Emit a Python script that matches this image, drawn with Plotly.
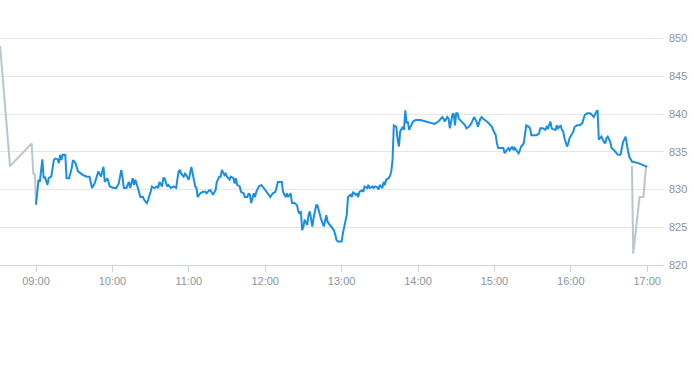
import pandas as pd
import plotly.graph_objects as go

DAY = "2024-01-02 "

pre_times = ["08:31:50", "08:39:36", "08:56:36", "08:57:54", "08:59:12", "09:00:00"]
pre_values = [849.0, 833.1, 836.1, 832.1, 832.0, 828.0]

post_times = ["16:48", "16:49", "16:54", "16:57", "16:59"]
post_values = [833.1, 821.5, 829.0, 829.0, 833.0]

main_times = [
    "09:00", "09:01", "09:02", "09:03", "09:05", "09:06", "09:07", "09:09", "09:10", "09:12",
    "09:14", "09:15", "09:17", "09:18", "09:19", "09:20", "09:21", "09:23", "09:24", "09:26",
    "09:28", "09:29", "09:31", "09:33", "09:37", "09:40", "09:42", "09:44", "09:46", "09:49",
    "09:51", "09:53", "09:54", "09:56", "09:58", "10:01", "10:03", "10:05", "10:07", "10:08",
    "10:09", "10:11", "10:13", "10:14", "10:16", "10:17", "10:18", "10:20", "10:22", "10:24",
    "10:25", "10:27", "10:28", "10:30", "10:31", "10:33", "10:35", "10:36", "10:37", "10:39",
    "10:40", "10:41", "10:43", "10:44", "10:46", "10:48", "10:50", "10:52", "10:53", "10:54",
    "10:56", "10:57", "10:58", "11:00", "11:02", "11:04", "11:05", "11:06", "11:07", "11:09",
    "11:11", "11:13", "11:14", "11:16", "11:17", "11:19", "11:21", "11:22", "11:24", "11:25",
    "11:26", "11:28", "11:29", "11:30", "11:32", "11:33", "11:35", "11:36", "11:37", "11:38",
    "11:40", "11:41", "11:43", "11:44", "11:46", "11:47", "11:48", "11:49", "11:51", "11:52",
    "11:53", "11:55", "11:57", "11:58", "12:00", "12:01", "12:02", "12:04", "12:06", "12:08",
    "12:10", "12:12", "12:13", "12:14", "12:16", "12:17", "12:18", "12:20", "12:21", "12:23",
    "12:25", "12:26", "12:27", "12:28", "12:29", "12:30", "12:31", "12:33", "12:34", "12:35",
    "12:37", "12:38", "12:40", "12:41", "12:43", "12:44", "12:46", "12:48", "12:49", "12:50",
    "12:52", "12:54", "12:55", "12:56", "12:57", "12:59", "13:00", "13:01", "13:04", "13:05",
    "13:07", "13:08", "13:09", "13:11", "13:12", "13:13", "13:14", "13:16", "13:17", "13:18",
    "13:20", "13:21", "13:22", "13:24", "13:25", "13:26", "13:28", "13:29", "13:30", "13:32",
    "13:33", "13:34", "13:35", "13:37", "13:38", "13:39", "13:40", "13:41", "13:43", "13:44",
    "13:45", "13:46", "13:47", "13:48", "13:49", "13:50", "13:51", "13:52", "13:53", "13:55",
    "13:56", "13:58", "14:01", "14:02", "14:04", "14:08", "14:13", "14:16", "14:19", "14:20",
    "14:21", "14:23", "14:24", "14:25", "14:27", "14:28", "14:29", "14:30", "14:31", "14:32",
    "14:34", "14:37", "14:38", "14:40", "14:42", "14:44", "14:46", "14:47", "14:49", "14:50",
    "14:51", "14:53", "14:54", "14:56", "14:58", "14:59", "15:01", "15:02", "15:03", "15:05",
    "15:07", "15:08", "15:10", "15:11", "15:12", "15:14", "15:15", "15:16", "15:18", "15:19",
    "15:20", "15:21", "15:23", "15:24", "15:25", "15:27", "15:28", "15:29", "15:31", "15:33",
    "15:35", "15:36", "15:38", "15:40", "15:41", "15:42", "15:44", "15:45", "15:46", "15:48",
    "15:49", "15:50", "15:52", "15:53", "15:54", "15:55", "15:57", "15:58", "15:59", "16:02",
    "16:03", "16:05", "16:07", "16:09", "16:11", "16:13", "16:15", "16:16", "16:18", "16:19",
    "16:20", "16:21", "16:22", "16:23", "16:24", "16:26", "16:27", "16:28", "16:29", "16:31",
    "16:32", "16:34", "16:36", "16:37", "16:39", "16:40", "16:41", "16:43", "16:44", "16:45",
    "16:46", "16:48", "16:53", "16:58", "17:00",
]
main_values = [
    828.0, 829.3, 831.3, 831.0, 834.0, 831.5, 831.7, 830.6, 831.5, 831.7,
    833.9, 834.1, 834.0, 833.5, 834.6, 833.9, 834.6, 834.6, 831.5, 831.5,
    832.8, 833.9, 833.5, 832.4, 831.9, 831.7, 831.7, 830.2, 830.8, 832.4,
    831.7, 833.0, 831.0, 831.5, 830.4, 830.2, 830.2, 830.8, 832.6, 831.5,
    830.2, 830.2, 831.0, 830.2, 831.5, 830.6, 831.3, 830.2, 829.0, 829.0,
    828.6, 828.2, 828.6, 829.7, 830.4, 830.2, 830.4, 830.2, 831.0, 830.4,
    831.5, 831.5, 830.4, 830.6, 830.2, 830.4, 830.2, 832.4, 832.6, 832.1,
    831.7, 832.1, 831.9, 831.3, 833.0, 831.3, 830.4, 830.2, 829.0, 829.5,
    829.7, 829.7, 829.5, 829.9, 829.9, 829.3, 829.9, 831.0, 831.7, 831.7,
    832.6, 831.9, 832.1, 831.7, 831.3, 831.7, 831.5, 830.8, 831.5, 830.6,
    830.4, 829.7, 829.5, 829.0, 829.0, 829.5, 829.3, 828.2, 829.5, 829.0,
    829.7, 830.4, 830.6, 830.4, 829.9, 829.7, 829.5, 829.0, 829.5, 829.7,
    831.0, 831.0, 831.0, 829.7, 829.0, 829.5, 829.0, 829.5, 828.2, 828.2,
    827.9, 827.1, 826.8, 827.1, 824.6, 825.1, 826.0, 825.3, 826.6, 827.1,
    825.1, 826.2, 827.9, 827.9, 826.4, 826.0, 825.1, 826.6, 825.7, 825.5,
    825.1, 824.6, 824.0, 823.3, 823.1, 823.1, 823.1, 824.2, 826.6, 829.0,
    829.3, 829.0, 829.7, 829.3, 829.5, 829.0, 829.7, 829.9, 829.7, 830.4,
    830.2, 830.6, 830.2, 830.4, 830.2, 830.4, 830.3, 830.0, 830.6, 830.2,
    831.0, 830.6, 831.3, 831.5, 831.8, 832.4, 833.9, 838.5, 838.3, 836.6,
    835.7, 837.7, 838.1, 838.3, 837.9, 840.5, 838.8, 839.0, 837.9, 838.8,
    839.0, 839.2, 839.2, 839.2, 839.1, 838.9, 838.7, 839.0, 839.6, 839.4,
    839.0, 839.6, 839.4, 838.1, 839.9, 840.1, 838.5, 840.1, 840.1, 839.4,
    839.0, 838.5, 838.1, 838.3, 838.8, 839.6, 839.0, 838.3, 839.4, 839.6,
    839.4, 839.2, 839.0, 838.7, 838.3, 837.9, 837.2, 836.1, 835.5, 835.5,
    835.5, 834.8, 835.2, 835.5, 835.2, 835.7, 835.2, 835.5, 835.0, 834.8,
    835.2, 835.7, 836.1, 837.4, 838.5, 838.3, 838.1, 837.2, 837.2, 837.2,
    837.4, 838.1, 838.1, 837.9, 838.3, 838.1, 839.0, 838.1, 838.0, 837.9,
    838.5, 838.1, 838.5, 837.9, 837.7, 836.8, 835.7, 836.1, 836.8, 837.7,
    838.3, 838.5, 838.5, 838.8, 839.9, 840.1, 840.1, 840.0, 839.6, 840.1,
    840.3, 840.5, 836.6, 836.8, 837.0, 836.3, 836.1, 836.8, 837.0, 836.3,
    835.5, 835.2, 834.8, 834.6, 834.6, 835.7, 836.3, 837.0, 835.7, 835.0,
    834.3, 833.7, 833.5, 833.2, 833.0,
]

x_start = "08:31:44"
x_end = "17:13:10"
y_min, y_max = 820, 851
y_tick_step = 5


def ts(times):
    return pd.to_datetime([DAY + t for t in times])


GRAY = "#b9c6cf"
BLUE = "#1a8fe0"
TEXT = "#8a949e"

fig = go.Figure()
fig.add_trace(go.Scatter(x=ts(pre_times), y=pre_values, mode="lines",
                         line=dict(color=GRAY, width=2), hoverinfo="skip"))
fig.add_trace(go.Scatter(x=ts(post_times), y=post_values, mode="lines",
                         line=dict(color=GRAY, width=2), hoverinfo="skip"))
fig.add_trace(go.Scatter(x=ts(main_times), y=main_values, mode="lines",
                         line=dict(color=BLUE, width=2), hoverinfo="skip"))

fig.update_layout(
    width=693, height=365,
    margin=dict(l=0, r=29, t=31, b=100, autoexpand=False),
    paper_bgcolor="white", plot_bgcolor="white",
    showlegend=False,
    font=dict(family="Liberation Sans, Arial, sans-serif", size=11, color=TEXT),
    xaxis=dict(
        type="date",
        range=[DAY + x_start, DAY + x_end],
        tickformat="%H:%M",
        tick0=DAY + "09:00",
        dtick=3600000,
        showgrid=False,
        showline=True, linecolor="#ccd6de", linewidth=1,
        ticks="outside", ticklen=6, tickcolor="#ccd6de", tickwidth=1,
        tickfont=dict(size=11, color=TEXT),
        zeroline=False,
        automargin=False,
        fixedrange=True,
    ),
    yaxis=dict(
        side="right",
        range=[y_min, y_max],
        tick0=y_min, dtick=y_tick_step,
        showgrid=True, gridcolor="#e6e6e6", gridwidth=1,
        showline=False, zeroline=False,
        ticks="",
        ticklabelstandoff=4,
        tickfont=dict(size=11, color=TEXT),
        automargin=False,
        fixedrange=True,
    ),
)

fig.write_html(
    "out.html",
    config={"displayModeBar": False, "staticPlot": True},
    post_script="document.body.style.margin='0';document.body.style.overflow='hidden';",
)
